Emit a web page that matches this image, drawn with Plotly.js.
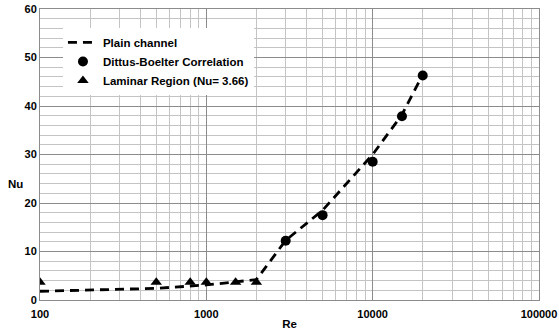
<!DOCTYPE html>
<html><head><meta charset="utf-8">
<script src="https://cdn.plot.ly/plotly-3.0.1.min.js"></script>
<style>html,body{margin:0;padding:0;background:#fff}#c{width:559px;height:334px}</style>
</head><body><div id="c"></div>
<script>
const plainRe = [100, 500, 1000, 1500, 2000, 3000, 5000, 10000, 15000, 20000];
const plainNu = [1.8, 2.4, 3.1, 3.8, 4.2, 12.3, 18.5, 30.0, 38.2, 46.5];
const dbRe = [3000, 5000, 10000, 15000, 20000];
const dbNu = [12.2, 17.5, 28.5, 37.9, 46.3];
const lamRe = [100, 500, 800, 1000, 1500, 2000];
const lamNu = [3.66, 3.66, 3.66, 3.66, 3.66, 3.66];
const xTickVals = [100, 1000, 10000, 100000];
const xTickText = ['100', '1000', '10000', '100000'];

const fam = 'Liberation Sans, Arial, sans-serif';
function f(size) { return {family: fam, color: '#000', size: size, weight: 'bold'}; }
const traces = [
  {x: plainRe, y: plainNu, type: 'scatter', mode: 'lines', name: 'Plain channel',
   line: {color: '#000', width: 2.8, dash: '9px,6px'}},
  {x: dbRe, y: dbNu, type: 'scatter', mode: 'markers', name: 'Dittus-Boelter Correlation',
   marker: {color: '#000', size: 10, symbol: 'circle'}},
  {x: lamRe, y: lamNu, type: 'scatter', mode: 'markers', name: 'Laminar Region (Nu= 3.66)',
   marker: {color: '#000', size: 10, symbol: 'triangle-up'}}
];
const layout = {
  width: 559, height: 334,
  margin: {l: 40, r: 20, t: 9, b: 34},
  paper_bgcolor: '#fff', plot_bgcolor: '#fff',
  font: f(11),
  showlegend: true,
  legend: {x: 0.046, y: 0.935, xanchor: 'left', yanchor: 'top', bgcolor: '#fff',
    borderwidth: 0, font: f(11.5), tracegroupgap: 0, itemwidth: 30},
  xaxis: {type: 'log', range: [2, 5], tickvals: xTickVals, ticktext: xTickText,
    showgrid: true, gridcolor: '#8c8c8c', gridwidth: 1,
    minor: {dtick: 'D1', showgrid: true, gridcolor: '#c4c4c4', gridwidth: 1, ticks: ''},
    showline: true, linecolor: '#8c8c8c', mirror: true, ticks: '', zeroline: false,
    tickfont: f(11), ticklabelstandoff: 4,
    title: {text: 'Re', font: f(11.5), standoff: 0}},
  yaxis: {range: [0, 60], dtick: 10, showgrid: true, gridcolor: '#8c8c8c', gridwidth: 1,
    minor: {dtick: 2, showgrid: true, gridcolor: '#c4c4c4', gridwidth: 1},
    showline: true, linecolor: '#8c8c8c', mirror: true, ticks: '', zeroline: false,
    tickfont: f(11)},
  annotations: [{text: 'Nu', xref: 'paper', yref: 'paper', x: -0.03, y: 0.40,
    xanchor: 'right', yanchor: 'middle', showarrow: false, font: f(11.5)}]
};
Plotly.newPlot('c', traces, layout, {staticPlot: true});
</script></body></html>
